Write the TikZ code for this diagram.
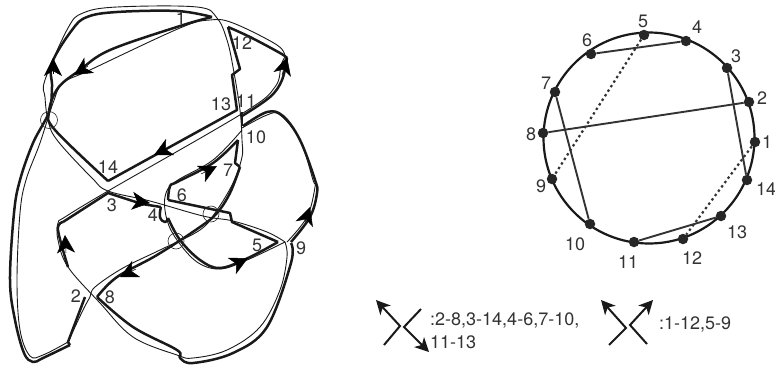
\documentclass[tikz,border=0pt]{standalone}
\usepackage{fontspec}
\setmainfont{TeX Gyre Heros}
\usetikzlibrary{arrows.meta}

\begin{document}
\begin{tikzpicture}[
  x=1pt, y=-1pt,
  rim/.style={line width=2.5pt, line join=round, black!90},
  fine/.style={line width=0.9pt, line join=round, black!90},
  ring/.style={line width=0.6pt, black!85},
  head/.style={-{Stealth[length=18pt,width=18pt,inset=5pt]}, line width=0.5pt, black},
  num/.style={font=\fontsize{18}{18}\selectfont, text=black!80, inner sep=0pt},
  dot/.style={circle, fill=black!85, minimum size=10.5pt, inner sep=0pt},
  chord/.style={line width=1.9pt, black!80},
  dotchord/.style={chord, line width=2.2pt, dash pattern=on 2.4pt off 3pt},
  wheel/.style={line width=2.2pt, black!90},
  legendline/.style={line width=2pt, black!90},
  legendtip/.style={legendline, -{Stealth[length=14pt,width=14pt,inset=4pt]}},
  legendtext/.style={font=\fontsize{18}{18}\selectfont, text=black!80, inner sep=0pt, anchor=west}
]
\useasboundingbox (0,0) rectangle (775,367);

% Band, heavy edge
\draw[rim] (85,297) -- (68,342) -- (70,345) plot[smooth, tension=0.6] coordinates {(70,345) (43,358) (33,362) (24,353) (15,320) (10,280) (14,213) (20,180) (33,143) (49,112) (52,87) (52,63) (72,30) (87,17) (117,12) (177,11) (212,17)};
\draw[rim] plot[smooth, tension=0.6] coordinates {(212,17) (180,26) (110,50) (80,70) (58,88) (49,112) (55,130) (108,181)};
\draw[rim] (108,181) -- (237,110) -- (232,75) -- (240,69) -- (228,27);
\draw[rim] plot[smooth, tension=0.6] coordinates {(228,27) (250,37) (280,53) (287,58)};
\draw[rim] plot[smooth, tension=0.6] coordinates {(287,58) (282,80) (270,97) (242,116)};
\draw[rim] (242,112) -- (242,126);
\draw[rim] plot[smooth, tension=0.6] coordinates {(243,126) (267,112) (283,116) (300,140) (315,180) (317,193) (310,217) (291,242)};
\draw[rim] plot[smooth, tension=0.6] coordinates {(291,243) (291,263) (267,327) (233,353) (193,363) (180,358) (177,350) (133,327) (97,297)};
\draw[rim] plot[smooth, tension=0.6] coordinates {(97,297) (117,277) (157,255) (200,227) (217,213) (230,193) (240,167)};
\draw[rim] (240,167) -- (235,163) -- (238,140);
\draw[rim] plot[smooth, tension=0.6] coordinates {(238,140) (213,163) (177,182) (170,186) (168,200)};
\draw[rim] (168,200) -- (230,213) -- (232,222) -- (278,242);
\draw[rim] plot[smooth, tension=0.6] coordinates {(278,242) (248,258) (220,268) (200,260) (180,240) (168,218)};
\draw[rim] plot[smooth, tension=0.8] coordinates {(168,218) (165,222) (160,217) (161,207)};
\draw[rim] (161,207) -- (142,204) -- (108,193) -- (63,222);
\draw[rim] plot[smooth, tension=0.6] coordinates {(63,222) (58,230) (68,267)};

% Band, fine edge
\draw[fine] plot[smooth, tension=0.6] coordinates {(68,342) (83,310) (90,297) (95,287) (123,268) (160,250) (200,230) (217,210) (233,183) (242,157) (242,140) (240,110) (233,67) (227,40) (217,18) (197,7) (117,7) (83,13) (68,28) (45,80) (45,97) (48,120) (57,140) (92,178) (108,191) (150,201) (203,216) (233,221) (267,232) (285,242)};
\draw[fine] plot[smooth, tension=0.6] coordinates {(285,242) (287,257) (280,290) (260,327) (227,350) (193,358) (177,355) (133,337) (100,303) (68,267) (58,240) (58,223) (65,217) (108,191) (243,113) (275,87) (281,65) (285,57)};
\draw[fine] plot[smooth, tension=0.6] coordinates {(285,57) (277,45) (233,23) (210,20) (180,28) (90,70) (63,83) (53,103) (40,143) (26,180) (20,213) (17,280) (20,330) (30,356) (43,355) (68,342)};
\draw[fine] plot[smooth, tension=0.6] coordinates {(242,128) (267,115) (280,115) (300,140) (313,180) (315,187) (307,217) (287,242)};
\draw[fine] plot[smooth, tension=0.6] coordinates {(285,242) (247,260) (220,269) (197,262) (177,240) (167,220) (165,197) (175,182) (213,160) (242,130)};

% Circled twists
\draw[ring] (49,120) circle (8.5);
\draw[ring] (176,241) circle (8);
\draw[ring] (211,214) circle (8);

% Arrow heads on the band
\draw[head] (53,74) -- (53,58);
\draw[head] (88,66) -- (74,75);
\draw[head] (170,147) -- (154,155);
\draw[head] (282,75) -- (287,57);
\draw[head] (201,174) -- (217,166);
\draw[head] (134,201) -- (150,203);
\draw[head] (305,222) -- (310,207);
\draw[head] (234,265) -- (248,258);
\draw[head] (136,269) -- (120,277);
\draw[head] (66,253) -- (65,235);

% Band labels
\node[num] (b1) at (181,18) {1};
\node[num] (b2) at (76,296) {2};
\node[num] (b3) at (112,205) {3};
\node[num] (b4) at (153,215) {4};
\node[num] (b5) at (257,245) {5};
\node[num] (b6) at (182,195) {6};
\node[num] (b7) at (228,170) {7};
\node[num] (b8) at (110,297) {8};
\node[num] (b9) at (301,248) {9};
\node[num] (b10) at (256,137) {10};
\node[num] (b11) at (246,101) {11};
\node[num] (b12) at (242,43) {12};
\node[num] (b13) at (221,104) {13};
\node[num] (b14) at (108,167) {14};

% Chord diagram
\draw[wheel] (649,138) circle (105.5);
\node[dot] (c1) at (755,142) {};
\node[dot] (c2) at (749,102) {};
\node[dot] (c3) at (727,68) {};
\node[dot] (c4) at (686,41) {};
\node[dot] (c5) at (644,35) {};
\node[dot] (c6) at (591,54) {};
\node[dot] (c7) at (555,92) {};
\node[dot] (c8) at (543,133) {};
\node[dot] (c9) at (552,179) {};
\node[dot] (c10) at (590,224) {};
\node[dot] (c11) at (634,242) {};
\node[dot] (c12) at (683,239) {};
\node[dot] (c13) at (721,216) {};
\node[dot] (c14) at (747,180) {};

\node[num] (n1) at (767,142) {1};
\node[num] (n2) at (762,98) {2};
\node[num] (n3) at (736,56) {3};
\node[num] (n4) at (697,27) {4};
\node[num] (n5) at (643,21) {5};
\node[num] (n6) at (587,40) {6};
\node[num] (n7) at (546,83) {7};
\node[num] (n8) at (531,134) {8};
\node[num] (n9) at (541,186) {9};
\node[num] (n10) at (575,244) {10};
\node[num] (n11) at (628,262) {11};
\node[num] (n12) at (692,258) {12};
\node[num] (n13) at (737,232) {13};
\node[num] (n14) at (766,189) {14};

\draw[chord] (c6) -- (c4);
\draw[chord] (c3) -- (c14);
\draw[chord] (c2) -- (c8);
\draw[chord] (c7) -- (c10);
\draw[chord] (c11) -- (c13);
\draw[dotchord] (c5) -- (c9);
\draw[dotchord] (c1) -- (c12);

% Legend
\draw[legendtip] (384,345) -- (400,326) -- (376,300);
\draw[legendtip] (421,309) -- (404,327) -- (429,352);
\draw[legendtip] (609,345) -- (626,328) -- (601,300);
\draw[legendtip] (647,344) -- (630,325) -- (653,300);
\node[legendtext] (t1) at (430,320) {:2-8,3-14,4-6,7-10,};
\node[legendtext] (t2) at (430,342) {11-13};
\node[legendtext] (t3) at (659,324) {:1-12,5-9};

\end{tikzpicture}
\end{document}
